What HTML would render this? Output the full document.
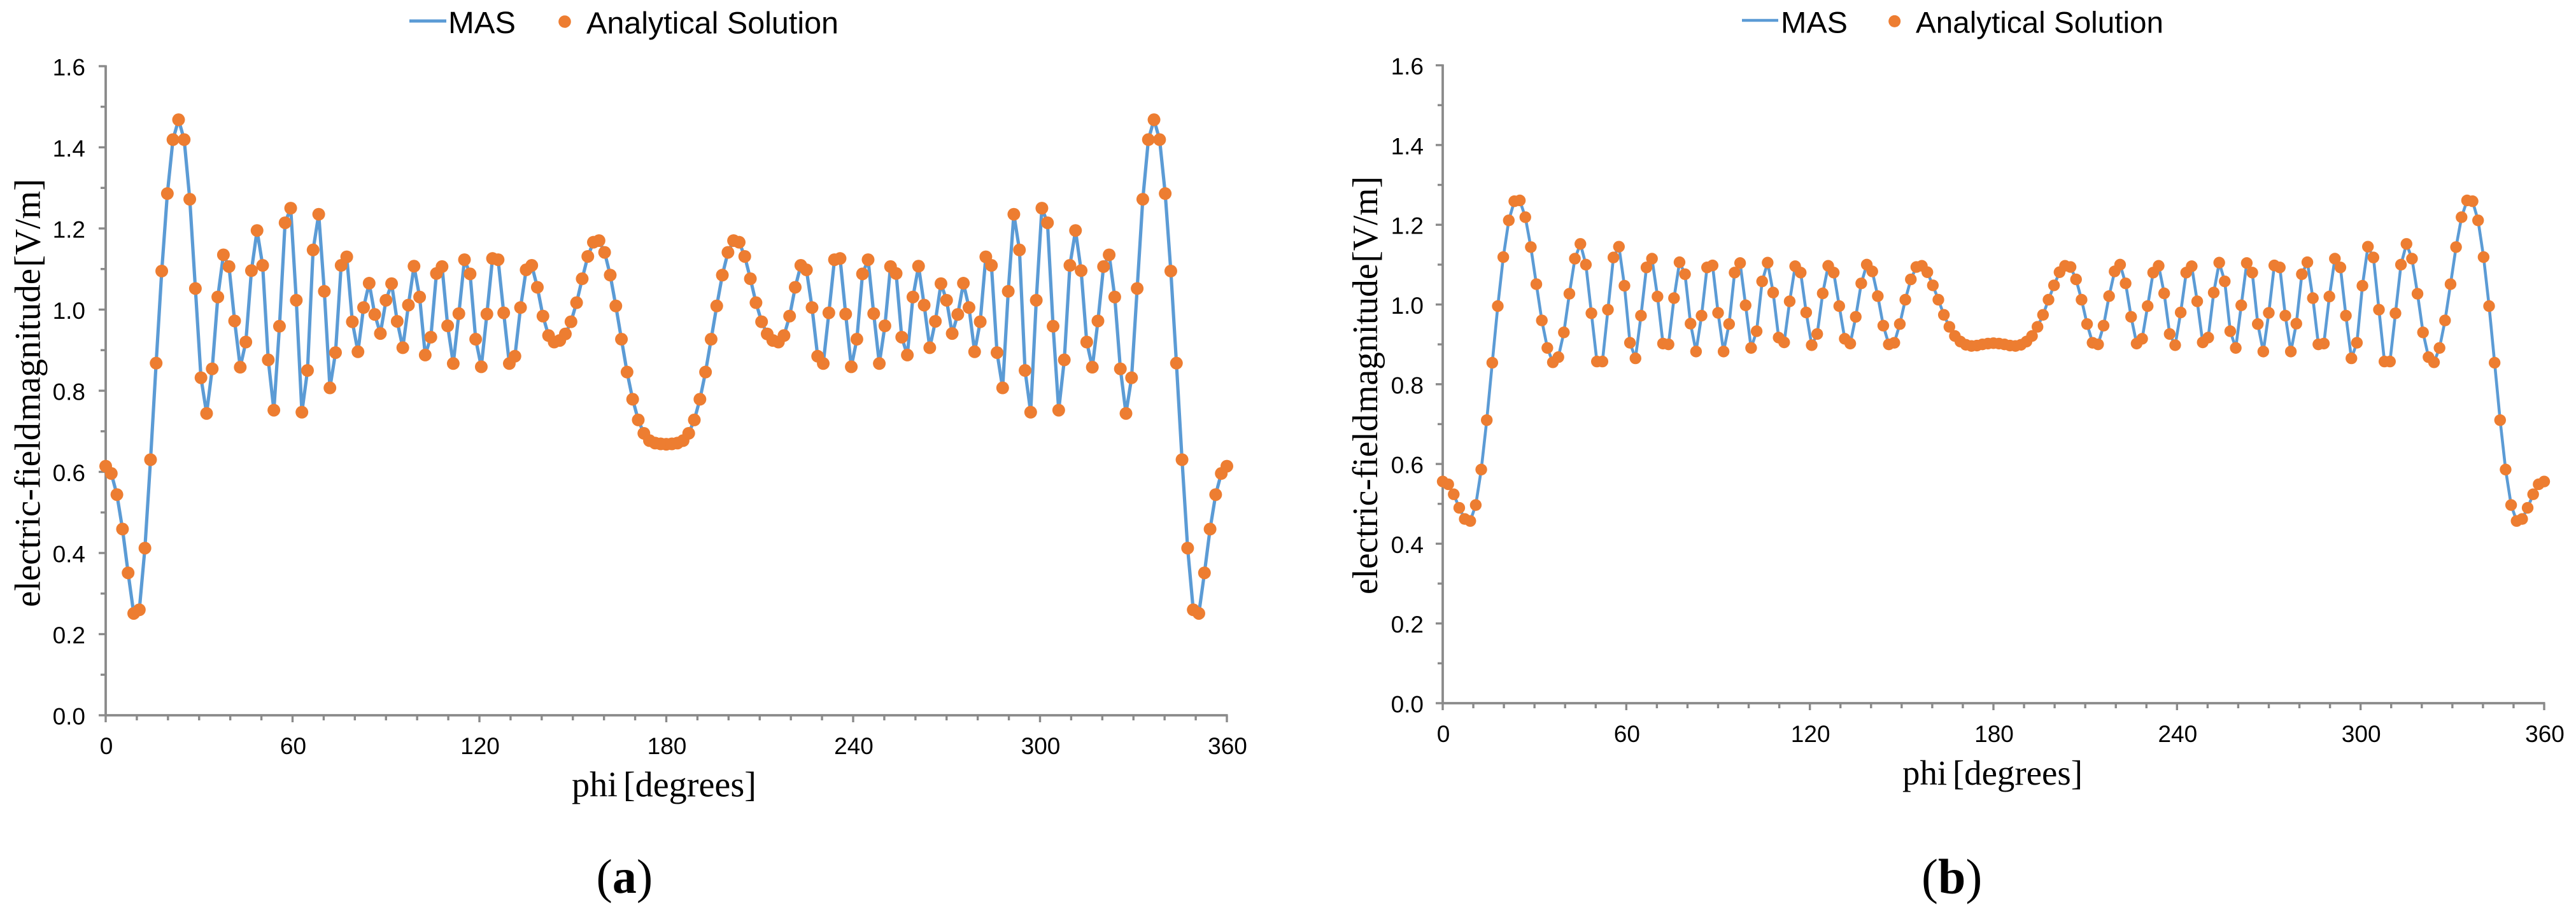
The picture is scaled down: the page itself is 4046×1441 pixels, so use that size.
<!DOCTYPE html>
<html lang="en">
<head>
<meta charset="utf-8">
<title>Electric-field magnitude versus phi: MAS and analytical solution</title>
<style>
html,body{margin:0;padding:0;background:#fff;width:4046px;height:1441px;overflow:hidden}
svg{display:block}
.sans{font-family:"Liberation Sans",Arial,sans-serif;fill:#000}
.serif{font-family:"Liberation Serif","Times New Roman",serif;fill:#000}
</style>
</head>
<body>
<svg id="figure" xmlns="http://www.w3.org/2000/svg" width="4046" height="1441" viewBox="0 0 4046 1441">
  <rect width="4046" height="1441" fill="#ffffff"/>

  <g id="panel-a"></g>
  <g id="panel-b"></g>

  <g>
    <line x1="643" y1="33" x2="701" y2="33" stroke="#5b9bd5" stroke-width="5"/>
    <text class="sans" x="704" y="52" font-size="48" textLength="106" lengthAdjust="spacingAndGlyphs">MAS</text>
    <circle cx="887" cy="34" r="9.8" fill="#ed7d31"/>
    <text class="sans" x="921" y="52.3" font-size="48" textLength="396" lengthAdjust="spacingAndGlyphs">Analytical Solution</text>
  </g>
  <g>
    <line x1="2736" y1="32" x2="2793" y2="32" stroke="#5b9bd5" stroke-width="4.4"/>
    <text class="sans" x="2797" y="51.5" font-size="47" textLength="105" lengthAdjust="spacingAndGlyphs">MAS</text>
    <circle cx="2975.7" cy="33.4" r="9.5" fill="#ed7d31"/>
    <text class="sans" x="3009" y="51.7" font-size="47.5" textLength="389" lengthAdjust="spacingAndGlyphs">Analytical Solution</text>
  </g>

  <text class="serif" transform="translate(62.5,954) rotate(-90)" font-size="57" word-spacing="-12" textLength="673" lengthAdjust="spacingAndGlyphs">electric-field magnitude [V/m]</text>
  <text class="serif" x="898" y="1251.7" font-size="56" word-spacing="-5" textLength="290" lengthAdjust="spacingAndGlyphs">phi [degrees]</text>
  <text class="serif" x="936.5" y="1403" font-size="76">(<tspan font-weight="bold">a</tspan>)</text>

  <text class="serif" transform="translate(2163,934) rotate(-90)" font-size="55.7" word-spacing="-12" textLength="657" lengthAdjust="spacingAndGlyphs">electric-field magnitude [V/m]</text>
  <text class="serif" x="2988" y="1233" font-size="55" word-spacing="-5" textLength="283" lengthAdjust="spacingAndGlyphs">phi [degrees]</text>
  <text class="serif" x="3018" y="1404" font-size="78">(<tspan font-weight="bold">b</tspan>)</text>
</svg>

<script>
const phiDegrees = [
0,1.8,3.6,5.4,7.2,9,10.8,12.6,14.4,16.2,18,19.8,21.6,23.4,25.2,27,28.8,30.6,32.4,34.2,
36,37.8,39.6,41.4,43.2,45,46.8,48.6,50.4,52.2,54,55.8,57.6,59.4,61.2,63,64.8,66.6,68.4,70.2,
72,73.8,75.6,77.4,79.2,81,82.8,84.6,86.4,88.2,90,91.8,93.6,95.4,97.2,99,100.8,102.6,104.4,106.2,
108,109.8,111.6,113.4,115.2,117,118.8,120.6,122.4,124.2,126,127.8,129.6,131.4,133.2,135,136.8,138.6,140.4,142.2,
144,145.8,147.6,149.4,151.2,153,154.8,156.6,158.4,160.2,162,163.8,165.6,167.4,169.2,171,172.8,174.6,176.4,178.2,
180,181.8,183.6,185.4,187.2,189,190.8,192.6,194.4,196.2,198,199.8,201.6,203.4,205.2,207,208.8,210.6,212.4,214.2,
216,217.8,219.6,221.4,223.2,225,226.8,228.6,230.4,232.2,234,235.8,237.6,239.4,241.2,243,244.8,246.6,248.4,250.2,
252,253.8,255.6,257.4,259.2,261,262.8,264.6,266.4,268.2,270,271.8,273.6,275.4,277.2,279,280.8,282.6,284.4,286.2,
288,289.8,291.6,293.4,295.2,297,298.8,300.6,302.4,304.2,306,307.8,309.6,311.4,313.2,315,316.8,318.6,320.4,322.2,
324,325.8,327.6,329.4,331.2,333,334.8,336.6,338.4,340.2,342,343.8,345.6,347.4,349.2,351,352.8,354.6,356.4,358.2,360];

const fieldPanelA = [
.614,.596,.544,.459,.351,.251,.260,.412,.630,.868,1.095,1.286,1.419,1.468,1.419,1.272,1.052,.832,.744,.854,
1.031,1.135,1.106,.972,.858,.920,1.096,1.195,1.109,.876,.752,.959,1.214,1.250,1.023,.747,.850,1.147,1.235,1.045,
.807,.894,1.109,1.130,.970,.896,1.005,1.065,.988,.941,1.023,1.064,.971,.906,1.011,1.107,1.031,.888,.932,1.089,
1.106,.960,.867,.990,1.123,1.088,.927,.859,.989,1.126,1.123,.992,.867,.885,1.005,1.098,1.109,1.055,.984,.936,
.920,.924,.940,.970,1.017,1.076,1.131,1.166,1.170,1.141,1.085,1.009,.927,.846,.779,.728,.695,.677,.671,.669,
.668,
.669,.671,.677,.695,.728,.779,.846,.927,1.009,1.085,1.141,1.170,1.166,1.131,1.076,1.017,.970,.940,.924,
.920,.936,.984,1.055,1.109,1.098,1.005,.885,.867,.992,1.123,1.126,.989,.859,.927,1.088,1.123,.990,.867,.960,
1.106,1.089,.932,.888,1.031,1.107,1.011,.906,.971,1.064,1.023,.941,.988,1.065,1.005,.896,.970,1.130,1.109,.894,
.807,1.045,1.235,1.147,.850,.747,1.023,1.250,1.214,.959,.752,.876,1.109,1.195,1.096,.920,.858,.972,1.106,1.135,
1.031,.854,.744,.832,1.052,1.272,1.419,1.468,1.419,1.286,1.095,.868,.630,.412,.260,.251,.351,.459,.544,.596,.614];

const fieldPanelB = [
.556,.549,.524,.490,.462,.457,.497,.586,.710,.854,.996,1.119,1.211,1.259,1.261,1.219,1.144,1.051,.960,.891,
.855,.868,.930,1.027,1.115,1.152,1.100,.978,.857,.857,.987,1.118,1.145,1.047,.904,.865,.972,1.093,1.115,1.020,
.902,.900,1.016,1.106,1.076,.952,.882,.972,1.093,1.098,.979,.882,.951,1.080,1.104,.998,.891,.933,1.058,1.105,
1.030,.917,.905,1.008,1.096,1.080,.980,.898,.926,1.028,1.097,1.080,.996,.914,.902,.969,1.053,1.100,1.083,1.021,
.947,.900,.904,.951,1.012,1.063,1.094,1.097,1.081,1.048,1.012,.974,.944,.921,.907,.899,.896,.897,.900,.902,
.903,
.902,.900,.897,.896,.899,.907,.921,.944,.974,1.012,1.048,1.081,1.097,1.094,1.063,1.012,.951,.904,.900,
.947,1.021,1.083,1.100,1.053,.969,.902,.914,.996,1.080,1.097,1.028,.926,.898,.980,1.080,1.096,1.008,.905,.917,
1.030,1.105,1.058,.933,.891,.998,1.104,1.080,.951,.882,.979,1.098,1.093,.972,.882,.952,1.076,1.106,1.016,.900,
.902,1.020,1.115,1.093,.972,.865,.904,1.047,1.145,1.118,.987,.857,.857,.978,1.100,1.152,1.115,1.027,.930,.868,
.855,.891,.960,1.051,1.144,1.219,1.261,1.259,1.211,1.119,.996,.854,.710,.586,.497,.457,.462,.490,.524,.549,.556];

const yMajorTicks = [0,0.2,0.4,0.6,0.8,1.0,1.2,1.4,1.6];
const yMinorTicks = [0.1,0.3,0.5,0.7,0.9,1.1,1.3,1.5];
const xMajorTicks = [0,60,120,180,240,300,360];
const xMinorTicks = [10,20,30,40,50,70,80,90,100,110,130,140,150,160,170,190,200,210,220,230,250,260,270,280,290,310,320,330,340,350];

const SVG_NS = 'http://www.w3.org/2000/svg';

function drawPanel(groupId, suffix, series, layout) {
  const group = document.getElementById(groupId);
  const xScale = function (phi) { return layout.x0 + (phi / 360) * layout.xSpan; };
  const yScale = function (v) { return layout.y0 - (v / 1.6) * layout.ySpan; };
  const axisColor = '#8a8a8a';

  const yAxis = document.createElementNS(SVG_NS, 'line');
  
  
  yAxis.setAttribute('x1', xScale(0));
  yAxis.setAttribute('x2', xScale(0));
  yAxis.setAttribute('y1', yScale(1.6) - 1.5);
  yAxis.setAttribute('y2', yScale(0) + 1.5);
  yAxis.setAttribute('stroke', axisColor);
  yAxis.setAttribute('stroke-width', 3.8);
  group.appendChild(yAxis);

  const xAxis = document.createElementNS(SVG_NS, 'line');
  
  
  xAxis.setAttribute('x1', xScale(0) - 1.5);
  xAxis.setAttribute('x2', xScale(360) + 1.5);
  xAxis.setAttribute('y1', yScale(0));
  xAxis.setAttribute('y2', yScale(0));
  xAxis.setAttribute('stroke', axisColor);
  xAxis.setAttribute('stroke-width', 3.8);
  group.appendChild(xAxis);

  yMajorTicks.forEach(function (v) {
    const tick = document.createElementNS(SVG_NS, 'line');
    
    
    tick.setAttribute('x1', xScale(0) - layout.majorLen);
    tick.setAttribute('x2', xScale(0));
    tick.setAttribute('y1', yScale(v));
    tick.setAttribute('y2', yScale(v));
    tick.setAttribute('stroke', axisColor);
    tick.setAttribute('stroke-width', 3.4);
    group.appendChild(tick);

    const label = document.createElementNS(SVG_NS, 'text');
    
    
    label.setAttribute('class', 'sans');
    label.setAttribute('font-size', 37);
    label.setAttribute('text-anchor', 'end');
    label.setAttribute('x', layout.yLabelRight);
    label.setAttribute('y', yScale(v) + 14.5);
    label.textContent = v.toFixed(1);
    group.appendChild(label);
  });

  yMinorTicks.forEach(function (v) {
    const tick = document.createElementNS(SVG_NS, 'line');
    
    
    tick.setAttribute('x1', xScale(0) - layout.minorLen);
    tick.setAttribute('x2', xScale(0));
    tick.setAttribute('y1', yScale(v));
    tick.setAttribute('y2', yScale(v));
    tick.setAttribute('stroke', axisColor);
    tick.setAttribute('stroke-width', 3.4);
    group.appendChild(tick);
  });

  xMajorTicks.forEach(function (phi) {
    const tick = document.createElementNS(SVG_NS, 'line');
    
    
    tick.setAttribute('x1', xScale(phi));
    tick.setAttribute('x2', xScale(phi));
    tick.setAttribute('y1', yScale(0));
    tick.setAttribute('y2', yScale(0) + layout.majorLen);
    tick.setAttribute('stroke', axisColor);
    tick.setAttribute('stroke-width', 3.4);
    group.appendChild(tick);

    const label = document.createElementNS(SVG_NS, 'text');
    
    
    label.setAttribute('class', 'sans');
    label.setAttribute('font-size', 37);
    label.setAttribute('text-anchor', 'middle');
    label.setAttribute('x', xScale(phi) + 1);
    label.setAttribute('y', layout.xLabelBaseline);
    label.textContent = String(phi);
    group.appendChild(label);
  });

  xMinorTicks.forEach(function (phi) {
    const tick = document.createElementNS(SVG_NS, 'line');
    
    
    tick.setAttribute('x1', xScale(phi));
    tick.setAttribute('x2', xScale(phi));
    tick.setAttribute('y1', yScale(0));
    tick.setAttribute('y2', yScale(0) + layout.minorLen);
    tick.setAttribute('stroke', axisColor);
    tick.setAttribute('stroke-width', 3.4);
    group.appendChild(tick);
  });

  const masLine = document.createElementNS(SVG_NS, 'polyline');
  
  
  masLine.setAttribute('fill', 'none');
  masLine.setAttribute('stroke', '#5b9bd5');
  masLine.setAttribute('stroke-width', layout.lineWidth);
  masLine.setAttribute('stroke-linejoin', 'round');
  masLine.setAttribute('points', phiDegrees.map(function (phi, i) {
    return xScale(phi).toFixed(2) + ',' + yScale(series[i]).toFixed(2);
  }).join(' '));
  group.appendChild(masLine);

  phiDegrees.forEach(function (phi, i) {
    const point = document.createElementNS(SVG_NS, 'circle');
    
    
    point.setAttribute('cx', xScale(phi).toFixed(2));
    point.setAttribute('cy', yScale(series[i]).toFixed(2));
    point.setAttribute('r', layout.markerRadius);
    point.setAttribute('fill', '#ed7d31');
    group.appendChild(point);
  });
}

drawPanel('panel-a', 'a', fieldPanelA, {
  x0: 166, xSpan: 1761, y0: 1124, ySpan: 1020,
  majorLen: 11, minorLen: 8, yLabelRight: 134, xLabelBaseline: 1185,
  lineWidth: 5.2, markerRadius: 10
});
drawPanel('panel-b', 'b', fieldPanelB, {
  x0: 2266, xSpan: 1730, y0: 1105, ySpan: 1002.4,
  majorLen: 11, minorLen: 8, yLabelRight: 2236, xLabelBaseline: 1166,
  lineWidth: 4.6, markerRadius: 9.2
});
</script>
</body>
</html>
